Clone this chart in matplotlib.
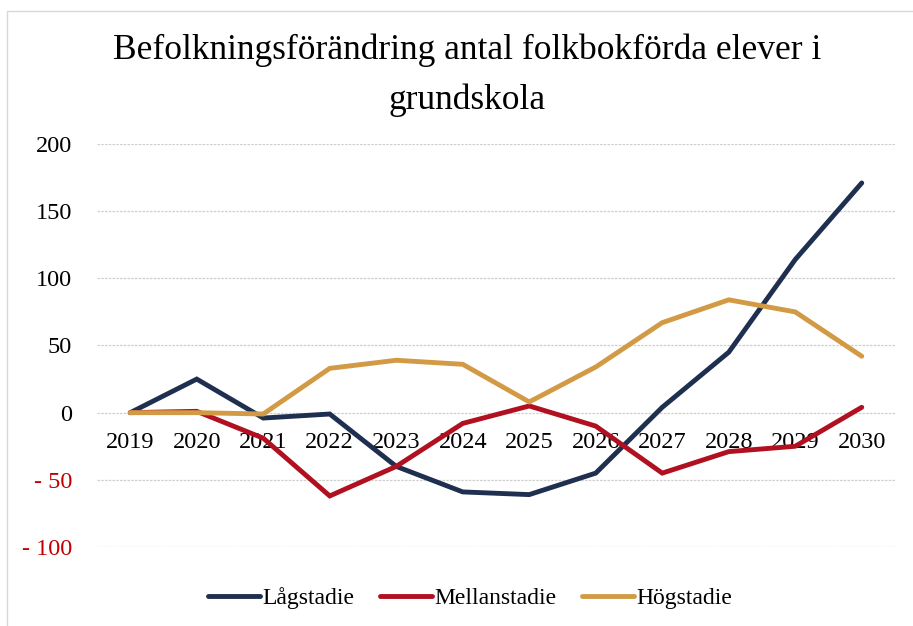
import matplotlib
matplotlib.use("Agg")
from matplotlib import pyplot as plt
from matplotlib.patches import Rectangle
import numpy as np

years = ["2019", "2020", "2021", "2022", "2023", "2024", "2025", "2026", "2027", "2028", "2029", "2030"]
lagstadie = [0, 25, -4, -1, -40, -59, -61, -45, 4, 45, 114, 171]
mellanstadie = [0, 1, -19, -62, -40, -8, 5, -10, -45, -29, -25, 4]
hogstadie = [0, 0, -1, 33, 39, 36, 8, 34, 67, 84, 75, 42]

series = [("Lågstadie", lagstadie, "#1e2f4f"),
          ("Mellanstadie", mellanstadie, "#b01020"),
          ("Högstadie", hogstadie, "#d29a45")]

yticks = [-100, -50, 0, 50, 100, 150, 200]

plt.rcParams["font.family"] = ["Liberation Serif", "DejaVu Serif"]

fig = plt.figure(figsize=(9.13, 6.26), dpi=100)
ax = fig.add_axes([97/913, 1 - 547/626, (895-97)/913, (547-144)/626])

# light frame round the chart
fig.patches.append(Rectangle((0.008, -0.01), 1.0, 0.992, transform=fig.transFigure,
                             fill=False, edgecolor="#d8d8d8", lw=1.0))

x = np.arange(len(years))
for name, vals, col in series:
    ax.plot(x, vals, color=col, lw=3.5, label=name, solid_capstyle="round",
            solid_joinstyle="miter", zorder=3)

ax.set_xlim(-0.5, len(years) - 0.5)
ax.set_ylim(-100, 200)
ax.set_yticks(yticks)
ax.set_yticklabels([("- %d" % -v) if v < 0 else str(v) for v in yticks], fontsize=17.5)
for lab, v in zip(ax.get_yticklabels(), yticks):
    if v < 0:
        lab.set_color("#c00000")
ax.yaxis.grid(True, color="#cfcfcf", lw=0.9, linestyle=(0, (2, 1)), zorder=0)
ax.tick_params(axis="y", length=0, pad=18)

ax.spines["bottom"].set_position(("data", 0))
for s in ["top", "right", "left", "bottom"]:
    ax.spines[s].set_visible(False)
ax.set_xticks(x)
ax.set_xticklabels(years, fontsize=17.5)
ax.tick_params(axis="x", length=0, pad=14)

fig.text(0.512, 0.947, "Befolkningsförändring antal folkbokförda elever i\ngrundskola",
         ha="center", va="top", fontsize=25.5, linespacing=1.65)

fig.legend(loc="center", bbox_to_anchor=(0.515, 0.044), ncol=3, frameon=False,
           fontsize=17, handlelength=2.2, handletextpad=0.1, columnspacing=1.1)

fig.savefig("out.png", dpi=100)
